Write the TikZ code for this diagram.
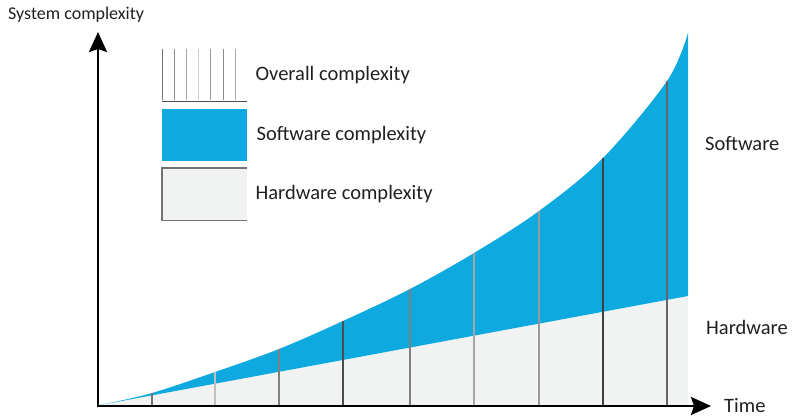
\documentclass[tikz,border=0pt]{standalone}
\usepackage{fontspec}
\setmainfont{Carlito}
\usetikzlibrary{arrows.meta,positioning}
\definecolor{swBlue}{HTML}{0DA9DF}
\definecolor{hwGray}{HTML}{F1F2F2}
\definecolor{txtGray}{HTML}{231F20}
\begin{document}
\begin{tikzpicture}[x=1pt, y=-1pt,
    axisStyle/.style={line width=2.6pt, -{Stealth[length=20pt, width=18pt, inset=3pt]}},
    labelStyle/.style={anchor=west, inner sep=0pt, text=txtGray, font=\fontsize{20.5}{22}\selectfont},
    keyStyle/.style={minimum width=85pt, minimum height=52pt, inner sep=0pt, anchor=north west},
    tickStyle/.style={line width=1.2pt}]
  \useasboundingbox (0,0) rectangle (792,417);

  % areas
  \fill[hwGray] (100,405) -- (688,296) -- (688,405) -- cycle;
  \fill[swBlue] plot[smooth, tension=0.55] coordinates {(100,405) (152,393) (215,372) (279,349) (343,321)
      (410,289) (474,253) (539,211) (603,158) (667,81) (688,33)}
    -- (688,296) -- cycle;

  % vertical lines
  \foreach \x/\y/\shade in {152/393/55, 215/372/25, 279/349/50, 343/321/70, 410/289/50,
                            474/253/35, 539/211/40, 603/158/75, 667/81/60}
    \draw[tickStyle, black!\shade] (\x,405) -- (\x,\y);

  % axes
  \coordinate (origin) at (98,406);
  \coordinate (yTip) at (98,32);
  \coordinate (xTip) at (711,406);
  \draw[axisStyle] (98,407.3) -- (yTip);
  \draw[axisStyle] (origin) -- (xTip);

  % legend
  \node[keyStyle] (overallKey) at (162,49) {};
  \foreach \i/\shade in {0/55, 1/45, 2/35, 3/20, 4/40, 5/45, 6/35}
    \draw[line width=0.9pt, black!\shade] (162+\i*12.2,49.5) -- (162+\i*12.2,100.5);
  \draw[line width=1.2pt, black!70] (overallKey.south west) -- (overallKey.south east);
  \node[keyStyle, fill=swBlue] (softwareKey) at (162,109) {};
  \node[keyStyle, fill=hwGray] (hardwareKey) at (162,168) {};
  \draw[line width=1.2pt, black!55] (hardwareKey.north east) -- (hardwareKey.north west)
    -- (hardwareKey.south west) -- (hardwareKey.south east);

  \node[labelStyle, right=8pt of overallKey] (overallText) {Overall complexity};
  \node[labelStyle, right=9pt of softwareKey] (softwareText) {Software complexity};
  \node[labelStyle, right=8pt of hardwareKey] (hardwareText) {Hardware complexity};

  % axis and area labels
  \node[labelStyle, font=\fontsize{18}{20}\selectfont] (yLabel) at (8,15) {System complexity};
  \node[labelStyle] (timeLabel) at (724,406) {Time};
  \node[labelStyle] (softwareLabel) at (705,144) {Software};
  \node[labelStyle] (hardwareLabel) at (706,327) {Hardware};
\end{tikzpicture}
\end{document}
